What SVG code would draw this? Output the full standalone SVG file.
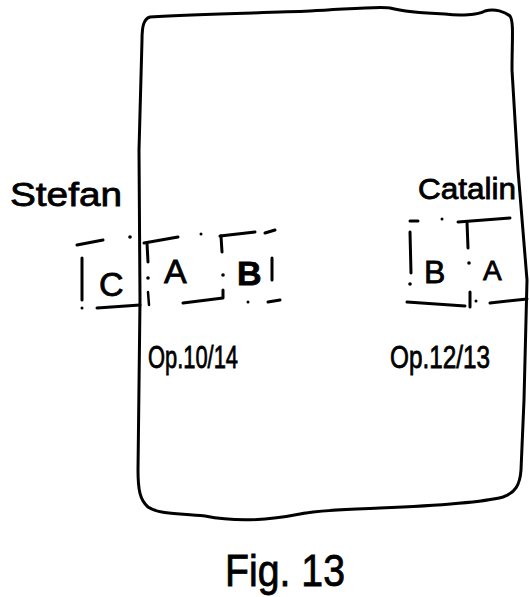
<svg xmlns="http://www.w3.org/2000/svg" width="530" height="597" viewBox="0 0 530 597">
<style>
.ink{fill:none;stroke:#000;stroke-width:3;stroke-linecap:round;stroke-linejoin:round}
.thin{fill:none;stroke:#000;stroke-width:2.5;stroke-linecap:round}
.dot{fill:#000}
.hand{font-family:"Liberation Sans","DejaVu Sans",sans-serif;fill:#000;stroke:#000;stroke-width:0.8}
</style>
<rect width="530" height="597" fill="#fff"/>
<g id="frame">
<path class="ink" d="M150 17 C200 14,260 13,310 11 C350 9,380 6,390 8 C405 12,420 13,445 14 C460 16,478 15,485 11 C495 8,505 12,510 16 C514 22,512 40,512 70 L518 170 L527 280 L524 400 L521 470 C520 485,515 493,503 497 C480 503,430 506,380 508 C340 510,320 510,300 514 C260 522,230 521,205 516 C180 513,160 515,148 507 C140 500,138 490,138 470 L140 300 L139 150 L142 40 C142 25,144 19,150 17 Z"/>
</g>
<g id="stefan">
<text class="hand" x="10" y="206" font-size="34" textLength="112" lengthAdjust="spacingAndGlyphs">Stefan</text>
</g>
<g id="catalin">
<text class="hand" x="418" y="199" font-size="30" textLength="98" lengthAdjust="spacingAndGlyphs">Catalin</text>
</g>
<g id="box-c">
<path class="ink" d="M77 245 L103 240"/>
<path class="ink" d="M82 258 L82 300"/>
<path class="ink" d="M97 308 L140 305"/>
<circle class="dot" cx="130" cy="237" r="1.8"/>
<circle class="dot" cx="82" cy="308" r="1.5"/>
<text class="hand" x="99" y="296" font-size="34">C</text>
</g>
<g id="box-a-left">
<path class="ink" d="M144 243 L178 237"/>
<path class="ink" d="M147 243 L148 262"/>
<circle class="dot" cx="148" cy="278" r="1.8"/>
<path class="thin" d="M148 292 L149 305"/>
<circle class="dot" cx="201" cy="234" r="1.5"/>
<path class="ink" d="M183 303 L223 298 L223 290"/>
<circle class="dot" cx="223" cy="275" r="1.8"/>
<text class="hand" x="164" y="283" font-size="34">A</text>
</g>
<g id="box-b-left">
<path class="ink" d="M220 236 L255 232"/>
<path class="ink" d="M221 236 L222 252"/>
<path class="ink" d="M265 233 L275 230"/>
<path class="ink" d="M272 258 L272 280"/>
<circle class="dot" cx="248" cy="302" r="1.5"/>
<path class="ink" d="M268 302 L280 300"/>
<text class="hand" x="237" y="285" font-size="34" font-weight="bold">B</text>
</g>
<g id="box-b-right">
<path class="ink" d="M410 221 L418 221"/>
<path class="ink" d="M410 232 L411 273"/>
<circle class="dot" cx="410" cy="284" r="1.8"/>
<path class="ink" d="M407 302 L465 306"/>
<circle class="dot" cx="442" cy="219" r="1.5"/>
<text class="hand" x="424" y="283" font-size="32">B</text>
</g>
<g id="box-a-right">
<path class="ink" d="M458 222 L510 218"/>
<path class="ink" d="M467 222 L468 248"/>
<circle class="dot" cx="469" cy="263" r="1.8"/>
<path class="ink" d="M470 292 L470 307"/>
<circle class="dot" cx="476" cy="301" r="1.5"/>
<path class="ink" d="M490 303 L527 299"/>
<text class="hand" x="483" y="280" font-size="28">A</text>
</g>
<g id="labels">
<text class="hand" x="148" y="368" font-size="32" textLength="90" lengthAdjust="spacingAndGlyphs">Op.10/14</text>
<text class="hand" x="390" y="368" font-size="32" textLength="100" lengthAdjust="spacingAndGlyphs">Op.12/13</text>
<text class="hand" x="225" y="586" font-size="44" textLength="120" lengthAdjust="spacingAndGlyphs">Fig. 13</text>
</g>
</svg>
